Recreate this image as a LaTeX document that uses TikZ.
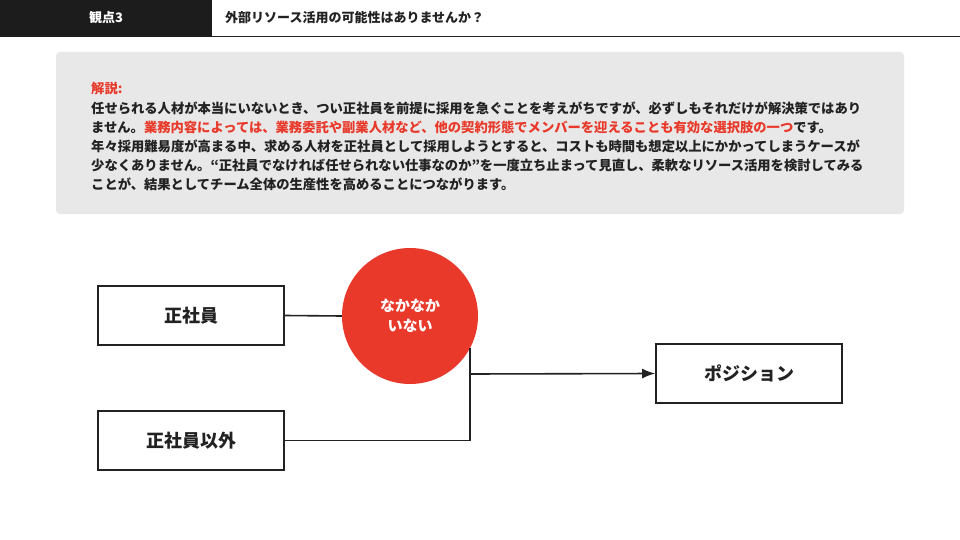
\documentclass[tikz,border=0pt]{standalone}
\usepackage{fontspec}
\setmainfont{Noto Sans CJK JP}
\usetikzlibrary{arrows.meta}
\definecolor{hdr}{HTML}{1C1C1C}
\definecolor{panel}{HTML}{E8E8E8}
\definecolor{accent}{HTML}{E8392A}
\definecolor{ink}{HTML}{222222}
\tikzset{
  body/.style={anchor=base west, inner sep=0pt, text=ink, font=\fontsize{13.3}{16}\selectfont\bfseries},
  boxnode/.style={draw=ink, line width=1.6pt, fill=white, minimum width=186pt, minimum height=59pt, inner sep=0pt, font=\fontsize{18}{20}\selectfont\bfseries, text=ink},
  link/.style={draw=ink, line width=1.6pt},
}
\begin{document}
\begin{tikzpicture}[x=1pt,y=-1pt]
\useasboundingbox (0,0) rectangle (960,540);
\fill[white] (0,0) rectangle (960,540);
% header
\fill[hdr] (0,0) rectangle (212,37);
\node[text=white, font=\fontsize{13}{15}\selectfont\bfseries, inner sep=0pt] (hlabel) at (106,18) {観点3};
\draw[ink, line width=1pt] (212,37) -- (960,37);
\node[anchor=west, inner sep=0pt, text=ink, font=\fontsize{13}{15}\selectfont\bfseries] (htitle) at (225,18) {外部リソース活用の可能性はありませんか？};
% panel
\fill[panel, rounded corners=4pt] (56,52) rectangle (904,214);
\node[body, text=accent] (t0) at (91,94) {解説:};
\node[body] (t1) at (91,113.5) {任せられる人材が本当にいないとき、つい正社員を前提に採用を急ぐことを考えがちですが、必ずしもそれだけが解決策ではあり};
\node[body] (t2) at (91,132.5) {ません。\textcolor{accent}{業務内容によっては、業務委託や副業人材など、他の契約形態でメンバーを迎えることも有効な選択肢の一つ}です。};
\node[body] (t3) at (91,151.5) {年々採用難易度が高まる中、求める人材を正社員として採用しようとすると、コストも時間も想定以上にかかってしまうケースが};
\node[body] (t4) at (91,170.5) {少なくありません。“正社員でなければ任せられない仕事なのか”を一度立ち止まって見直し、柔軟なリソース活用を検討してみる};
\node[body] (t5) at (91,189.5) {ことが、結果としてチーム全体の生産性を高めることにつながります。};
% diagram
\node[boxnode] (seisha) at (191,315.5) {正社員};
\node[boxnode] (igai) at (191,440.5) {正社員以外};
\node[boxnode] (pos) at (749,373.5) {ポジション};
\node[circle, fill=accent, minimum size=136pt, inner sep=0pt, align=center, text=white, font=\fontsize{15}{20}\selectfont\bfseries] (circ) at (410,316) {なかなか\\いない};
\coordinate (jtop) at (470,348);
\coordinate (jmid) at (470,374);
\draw[link] (seisha.east) -- (circ.west);
\draw[link] (igai.east) -| (jtop);
\draw[link, -{Latex[length=13pt,width=10pt]}] (jmid) -- (pos.west);
\end{tikzpicture}
\end{document}
